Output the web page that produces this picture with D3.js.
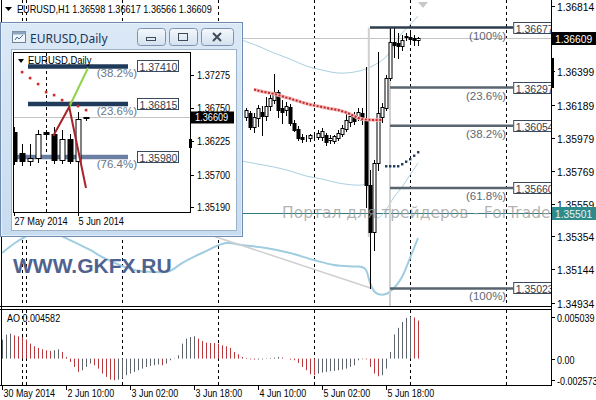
<!DOCTYPE html>
<html><head><meta charset="utf-8">
<script src="https://cdn.jsdelivr.net/npm/d3@7"></script>
<style>
html,body{margin:0;padding:0;background:#fff;}
svg{display:block;font-family:"Liberation Sans",Arial,sans-serif;}
</style></head><body>
<svg id="c" width="596" height="400"></svg>
<script>
// ---------------- DATA ----------------
const symbolHeader = "EURUSD,H1  1.36598 1.36617 1.36566 1.36609";
const lastPrice = 1.36609;
const markerPrice = 1.35501;
const firstCandle = 61;
const candleOpen  = [1.36110,1.36136,1.36047,1.36104,1.36142,1.36116,1.36180,1.36218,1.36269,1.36167,1.36155,1.36174,1.36072,1.36034,1.35983,1.35977,1.35977,1.35990,1.35983,1.35983,1.35996,1.35964,1.35958,1.35977,1.36002,1.36034,1.36078,1.36116,1.36104,1.36136,1.36091,1.35679,1.35381,1.35818,1.36110,1.36167,1.36357,1.36586,1.36579,1.36560,1.36624,1.36617,1.36611,1.36598];
const candleHigh  = [1.36167,1.36148,1.36136,1.36186,1.36180,1.36237,1.36250,1.36383,1.36281,1.36218,1.36205,1.36193,1.36091,1.36053,1.36002,1.35996,1.36002,1.36002,1.36028,1.36040,1.36009,1.35996,1.35996,1.36028,1.36059,1.36136,1.36123,1.36142,1.36167,1.36167,1.36427,1.35774,1.35837,1.36522,1.36199,1.36376,1.36677,1.36675,1.36643,1.36630,1.36643,1.36643,1.36630,1.36617];
const candleLow   = [1.36091,1.36034,1.36015,1.36053,1.35996,1.36091,1.36155,1.36199,1.36110,1.36072,1.36123,1.36059,1.36021,1.35964,1.35952,1.35958,1.35958,1.35964,1.35971,1.35964,1.35933,1.35945,1.35945,1.35964,1.35990,1.36021,1.36053,1.36066,1.36091,1.36066,1.35539,1.35023,1.35267,1.35774,1.36078,1.36155,1.36345,1.36491,1.36484,1.36535,1.36598,1.36573,1.36567,1.36566];
const candleClose = [1.36155,1.36047,1.36110,1.36167,1.36116,1.36180,1.36231,1.36269,1.36155,1.36142,1.36180,1.36072,1.36028,1.35977,1.35971,1.35975,1.35996,1.35988,1.36009,1.36021,1.35952,1.35977,1.35990,1.36009,1.36040,1.36091,1.36116,1.36085,1.36142,1.36091,1.35679,1.35381,1.35818,1.36136,1.36174,1.36357,1.36586,1.36567,1.36560,1.36598,1.36617,1.36605,1.36598,1.36609];

const sarRedStart = 63;
const sarRed = [1.36285,1.36278,1.36272,1.36267,1.36262,1.36257,1.36250,1.36242,1.36234,1.36228,1.36219,1.36212,1.36203,1.36196,1.36189,1.36184,1.36179,1.36174,1.36169,1.36163,1.36159,1.36155,1.36147,1.36139,1.36129,1.36117,1.36104,1.36098,1.36094,1.36092,1.36091,1.36091,1.36091];
const sarBlueStart = 96;
const sarBlue = [1.35799,1.35799,1.35799,1.35799,1.35812,1.35828,1.35844,1.35866,1.35888];

const upperBandBars = [60,64,68,72,76,80,84,88,91,94,96,98,100,102,104];
const upperBand     = [1.36598,1.36560,1.36516,1.36478,1.36434,1.36408,1.36389,1.36395,1.36415,1.36453,1.36491,1.36560,1.36643,1.36694,1.36751];
const innerBandBars = [60,64,68,72,76,80,84,88,90,91,92,93,94,96,98,100,102,104];
const innerBand     = [1.35831,1.35812,1.35793,1.35768,1.35736,1.35717,1.35692,1.35679,1.35679,1.35685,1.35584,1.35508,1.35470,1.35521,1.35603,1.35666,1.35742,1.35818];
const lowerBandBars = [0,4,8,12,17,22,26,33,38,42,45,50,56,60,66,72,78,83,88,90,91,92,93,94,96,98,100,102,104];
const lowerBand     = [1.35248,1.35324,1.35375,1.35381,1.35330,1.35267,1.35210,1.35140,1.35127,1.35134,1.35184,1.35248,1.35311,1.35298,1.35280,1.35248,1.35203,1.35172,1.35162,1.35159,1.35140,1.35058,1.35007,1.34988,1.34988,1.35026,1.35096,1.35216,1.35343];

const trendBars = [45, 92.5];
const trendPrices = [1.35421, 1.35023];
const grayVerticalBars = [91.7, 97];
const grayVerticalLow = [1.35350, 1.34899];

const fibPrices = [1.36677, 1.36297, 1.36054, 1.35660, 1.35023];
const fibTexts  = ["1.36677","1.36297","1.36054","1.35660","1.35023"];
const fibLevels = ["(100%)","(23.6%)","(38.2%)","(61.8%)","(100%)"];
const fibStartBar = [92, 97, 97, 97, 97];
const fibEndBar = 127.8;

const aoValues = [0.00228,0.00288,0.00300,0.00280,0.00268,0.00260,0.00228,0.00180,0.00148,0.00128,
 0.00112,0.00100,0.00092,0.00100,0.00112,0.00080,0.00020,-0.00040,-0.00100,-0.00160,
 -0.00140,-0.00100,-0.00060,-0.00080,-0.00120,-0.00180,-0.00220,-0.00252,-0.00260,-0.00252,
 -0.00240,-0.00200,-0.00180,-0.00160,-0.00140,-0.00120,-0.00100,-0.00088,-0.00080,-0.00072,
 -0.00080,-0.00060,-0.00020,0.00004,0.00040,0.00180,0.00240,0.00260,0.00268,0.00240,
 0.00212,0.00192,0.00188,0.00186,0.00180,0.00160,0.00148,0.00128,0.00080,0.00052,
 0.00020,0.00008,-0.00008,-0.00012,-0.00012,-0.00010,-0.00004,0.00008,0.00012,0.00020,
 0.00012,0.00000,-0.00012,-0.00020,-0.00052,-0.00100,-0.00140,-0.00188,-0.00200,-0.00180,
 -0.00168,-0.00160,-0.00152,-0.00148,-0.00140,-0.00132,-0.00120,-0.00100,-0.00080,-0.00020,
 -0.00008,-0.00010,-0.00100,-0.00180,-0.00212,-0.00200,-0.00120,0.00080,0.00290,0.00370,
 0.00440,0.00490,0.005039,0.00495,0.004582];
const aoHeader = "AO 0.004582";
const aoTickLabels = ["0.005039","0.00","-0.002573"];

const timeLabels = ["30 May 2014","2 Jun 10:00","3 Jun 02:00","3 Jun 18:00","4 Jun 10:00","5 Jun 02:00","5 Jun 18:00"];
const timeLabelBars = [0,16,32,48,64,80,96];
const daySeparatorBars = [5,6,30,54,78,102,126];
const priceTickLabels = ["1.36814","1.36399","1.36189","1.35979","1.35769","1.35559","1.35354","1.35144","1.34934"];

// inset (daily)
const insetTitle = "EURUSD,Daily";
const insetDays  = ["27 May","28 May","29 May","30 May","1 Jun","2 Jun","3 Jun","4 Jun","5 Jun","6 Jun"];
const insetOpen  = [1.3637,1.3605,1.3592,1.3596,1.3637,1.3634,1.3594,1.3627,1.3592,1.36598];
const insetHigh  = [1.3645,1.3618,1.3618,1.3640,1.3640,1.3645,1.3640,1.3634,1.3669,1.36617];
const insetLow   = [1.3587,1.3586,1.3585,1.3590,1.3630,1.3588,1.3588,1.3588,1.3503,1.36566];
const insetClose = [1.3592,1.3592,1.3596,1.3635,1.3634,1.3594,1.3627,1.3592,1.3658,1.36609];
const insetSar   = [null,1.37322,1.37228,1.37133,1.37006,1.36959,1.36880,1.36833,1.36785,1.36722];
const insetRedLine   = [[4.9,1.36311],[6.9,1.36770],[9,1.35490]];
const insetGreenLine = [[6.9,1.36770],[9.25,1.37386]];
const insetFibPrices = [1.37410, 1.36815, 1.35980];
const insetFibTexts  = ["1.37410","1.36815","1.35980"];
const insetFibLevels = ["(38.2%)","(23.6%)","(76.4%)"];
const insetFibStart  = [1.75, 1.75, -1];
const insetFibEnd    = 14.25;
const insetFibColors = ["#1f3a5a","#1f3a5a","#6b7fa3"];
const insetTickLabels = ["1.37275","1.36750","1.36225","1.35700","1.35190"];
const insetDateLabels = ["27 May 2014","5 Jun 2014"];
const insetDateBars = [0, 8];
const insetSeparatorBars = [4];

// ---------------- HELPERS ----------------
function T(parent, x, y, str, size, sx, fill, anchor){
  return parent.append("text")
    .attr("transform", `translate(${x},${y}) scale(${sx},1)`)
    .attr("font-size", size).attr("fill", fill || "#000")
    .attr("text-anchor", anchor || "start").text(str);
}

// ---------------- SCALES ----------------
const svg = d3.select("#c");
const x = d3.scaleLinear().domain([0,137]).range([2,550]);
const y = d3.scaleLinear().domain([1.36814,1.34934]).range([6,302.5]);
const yAO = d3.scaleLinear().domain([0.005039,-0.002573]).range([316.7,380]);
const cx = i => Math.round(x(i)) + 0.5;

const defs = svg.append("defs");
defs.append("clipPath").attr("id","mainClip").append("rect").attr("x",1).attr("y",0).attr("width",550).attr("height",306);
defs.append("clipPath").attr("id","aoClip").append("rect").attr("x",1).attr("y",310).attr("width",550).attr("height",75);
defs.append("clipPath").attr("id","inClip").append("rect").attr("x",14).attr("y",53).attr("width",176).attr("height",159);
const g1 = defs.append("linearGradient").attr("id","frameGrad").attr("x1",0).attr("y1",0).attr("x2",0).attr("y2",1);
g1.append("stop").attr("offset","0").attr("stop-color","#dbe8f6");
g1.append("stop").attr("offset","1").attr("stop-color","#c8dcf0");
const g2 = defs.append("linearGradient").attr("id","btnGrad").attr("x1",0).attr("y1",0).attr("x2",0).attr("y2",1);
g2.append("stop").attr("offset","0").attr("stop-color","#f4f8fc");
g2.append("stop").attr("offset","1").attr("stop-color","#d3e1ef");

svg.append("rect").attr("width",596).attr("height",400).attr("fill","#fff");

// ---------------- MAIN PANEL ----------------
const main = svg.append("g").attr("clip-path","url(#mainClip)");

main.selectAll("line.sep").data(daySeparatorBars).join("line")
  .attr("x1",d=>cx(d)).attr("x2",d=>cx(d)).attr("y1",0).attr("y2",306)
  .attr("stroke","#000").attr("stroke-dasharray","3,3");

main.append("line").attr("x1",0).attr("x2",551).attr("y1",Math.round(y(lastPrice))+0.5).attr("y2",Math.round(y(lastPrice))+0.5)
  .attr("stroke","#c4c4c4");
main.append("line").attr("x1",0).attr("x2",551).attr("y1",Math.round(y(markerPrice))+0.5).attr("y2",Math.round(y(markerPrice))+0.5)
  .attr("stroke","#2f7b80");

const bandLine = d3.line().x(d=>x(d[0])).y(d=>y(d[1])).curve(d3.curveCatmullRom);
main.append("path").attr("d",bandLine(upperBandBars.map((b,i)=>[b,upperBand[i]])))
  .attr("fill","none").attr("stroke","#a9d0e0").attr("stroke-width",1);
main.append("path").attr("d",bandLine(innerBandBars.map((b,i)=>[b,innerBand[i]])))
  .attr("fill","none").attr("stroke","#a9d0e0").attr("stroke-width",1);
main.append("path").attr("d",bandLine(lowerBandBars.map((b,i)=>[b,lowerBand[i]])))
  .attr("fill","none").attr("stroke","#9fcde0").attr("stroke-width",2);

main.append("line").attr("x1",x(trendBars[0])).attr("y1",y(trendPrices[0])).attr("x2",x(trendBars[1])).attr("y2",y(trendPrices[1]))
  .attr("stroke","#cfcfcf").attr("stroke-width",1.5);

main.selectAll("line.gv").data(grayVerticalBars).join("line")
  .attr("x1",d=>x(d)).attr("x2",d=>x(d))
  .attr("y1",y(fibPrices[0])).attr("y2",(d,i)=> y(grayVerticalLow[i]))
  .attr("stroke","#d0d0d0").attr("stroke-width",2);

// candles
const candles = candleOpen.map((o,k)=>({i:firstCandle+k,o,h:candleHigh[k],l:candleLow[k],c:candleClose[k]}));
const cg = main.append("g");
cg.selectAll("line.wick").data(candles).join("line")
  .attr("x1",d=>cx(d.i)).attr("x2",d=>cx(d.i))
  .attr("y1",d=>Math.round(y(d.h))).attr("y2",d=>Math.round(y(d.l))+1)
  .attr("stroke","#000");
cg.selectAll("rect.body").data(candles).join("rect")
  .attr("x",d=>cx(d.i)-1.5).attr("width",3)
  .attr("y",d=>Math.round(y(Math.max(d.o,d.c)))+0.5)
  .attr("height",d=>Math.max(0,Math.round(y(Math.min(d.o,d.c)))-Math.round(y(Math.max(d.o,d.c)))))
  .attr("fill",d=>d.c>=d.o?"#fff":"#000").attr("stroke","#000");

// SAR / dotted lines
const sarLine = d3.line().x(d=>x(d[0])).y(d=>y(d[1]));
const redPts = sarRed.map((v,k)=>[sarRedStart+k,v]);
main.append("path").attr("d",sarLine(redPts)).attr("fill","none").attr("stroke","#f3b9b9").attr("stroke-width",3.5);
main.append("path").attr("d",sarLine(redPts)).attr("fill","none").attr("stroke","#c0282a").attr("stroke-width",2).attr("stroke-dasharray","2,1.6");
main.selectAll("rect.sb").data(sarBlue.map((v,k)=>[sarBlueStart+k,v])).join("rect")
  .attr("x",d=>x(d[0])-1).attr("y",d=>y(d[1])-1).attr("width",2.4).attr("height",2.4).attr("fill","#1f3a5a");

// Fibonacci
const fg = main.append("g");
fibPrices.forEach((p,k)=>{
  const yy = y(p);
  fg.append("line").attr("x1",x(fibStartBar[k])).attr("x2",x(fibEndBar)).attr("y1",yy).attr("y2",yy)
    .attr("stroke", k===0?"#2c3e4e":"#59646f").attr("stroke-width",2.5);
  T(fg, x(fibEndBar)-7, yy+12, fibLevels[k], 11.5, 1, "#5d6874", "end");
  fg.append("rect").attr("x",x(fibEndBar)+0.5).attr("y",Math.round(yy)-5.5).attr("width",45).attr("height",11)
    .attr("fill","#fff").attr("stroke","#3a4a5a");
  T(fg, x(fibEndBar)+2.5, Math.round(yy)+4.5, fibTexts[k], 10.5, 1, "#33414f");
});

// watermarks
main.append("text").attr("x",282).attr("y",218).attr("font-family","'DejaVu Sans',sans-serif").attr("font-size",15.5)
  .attr("fill","#9a9a9a").attr("fill-opacity",0.75).text("Портал для трейдеров - ForTrader");
main.append("text").attr("x",13).attr("y",273).attr("font-size",21).attr("font-weight","bold").attr("fill","#50638f")
  .text("WWW.GKFX.RU");

// gray marker triangle at top
main.append("path").attr("d","M418,2 L428,2 L423,8 Z").attr("fill","#c8c8c8");

// header
main.append("path").attr("d","M5,7 L12,7 L8.5,11 Z").attr("fill","#000");
T(main, 17, 13, symbolHeader, 10.5, 0.87);

// ---------------- AO PANEL ----------------
const ao = svg.append("g").attr("clip-path","url(#aoClip)");
ao.selectAll("line.sep").data(daySeparatorBars).join("line")
  .attr("x1",d=>cx(d)).attr("x2",d=>cx(d)).attr("y1",310).attr("y2",385)
  .attr("stroke","#000").attr("stroke-dasharray","3,3");
ao.selectAll("line.bar").data(aoValues).join("line")
  .attr("x1",(d,i)=>cx(i)).attr("x2",(d,i)=>cx(i))
  .attr("y1",yAO(0)).attr("y2",d=>yAO(d))
  .attr("stroke",(d,i)=> i>0 && d<aoValues[i-1] ? "#b9393c" : "#5d646c").attr("stroke-width",1);
T(ao, 7, 322, aoHeader, 10.5, 0.86);

// frame lines
const fr = svg.append("g").attr("stroke","#000").attr("shape-rendering","crispEdges");
fr.append("line").attr("x1",1).attr("x2",1).attr("y1",0).attr("y2",386);
fr.append("line").attr("x1",0).attr("x2",552).attr("y1",306.5).attr("y2",306.5);
fr.append("line").attr("x1",0).attr("x2",552).attr("y1",309.5).attr("y2",309.5);
fr.append("line").attr("x1",0).attr("x2",552).attr("y1",385.5).attr("y2",385.5);

// ---------------- INSET WINDOW ----------------
const ins = svg.append("g");
ins.append("rect").attr("x",0.5).attr("y",22.5).attr("width",242).attr("height",214)
  .attr("fill","url(#frameGrad)").attr("stroke","#6f8cae");
ins.append("rect").attr("x",1.5).attr("y",23.5).attr("width",240).attr("height",212)
  .attr("fill","none").attr("stroke","#eef5fc").attr("stroke-opacity",0.7);
// icon
ins.append("rect").attr("x",12.5).attr("y",31.5).attr("width",13).attr("height",11).attr("fill","#f2f6fa").attr("stroke","#6d8199");
ins.append("rect").attr("x",12.5).attr("y",31.5).attr("width",13).attr("height",3).attr("fill","#8fa5bf");
ins.append("path").attr("d","M15,40 L17,37 L19,39 L23,35").attr("fill","none").attr("stroke","#3d6ea5");
ins.append("text").attr("x",30).attr("y",43).attr("font-family","'Noto Sans',sans-serif").attr("font-size",12).attr("fill","#1d3557").text(insetTitle);
// buttons
const btns = [[137,28],[169,28],[201,32]];
btns.forEach((b,k)=>{
  const bx = b[0], bw = b[1];
  ins.append("rect").attr("x",bx+0.5).attr("y",28.5).attr("width",bw).attr("height",17).attr("rx",3)
    .attr("fill","url(#btnGrad)").attr("stroke","#7b93b0");
  const mx = bx + bw/2;
  if(k===0) ins.append("rect").attr("x",mx-4.5).attr("y",37.5).attr("width",9).attr("height",3).attr("fill","none").attr("stroke","#3f4b59");
  if(k===1) ins.append("rect").attr("x",mx-4.5).attr("y",33.5).attr("width",9).attr("height",7).attr("fill","none").attr("stroke","#3f4b59");
  if(k===2) ins.append("path").attr("d",`M${mx-4},${33} L${mx+4},${41} M${mx+4},${33} L${mx-4},${41}`).attr("stroke","#3f4b59").attr("stroke-width",2);
});
// client area
ins.append("rect").attr("x",11.5).attr("y",49.5).attr("width",225).attr("height",181).attr("fill","#fff").attr("stroke","#9fb3c8");

const ix = d3.scaleLinear().domain([0,9]).range([14,86]);
const iy = d3.scaleLinear().domain([1.37275,1.35190]).range([75,207]);
const icx = k => Math.round(ix(k)) + 0.5;

const ip = ins.append("g").attr("clip-path","url(#inClip)");
ip.selectAll("line.isep").data(insetSeparatorBars).join("line")
  .attr("x1",d=>icx(d)).attr("x2",d=>icx(d)).attr("y1",53).attr("y2",212).attr("stroke","#000").attr("stroke-dasharray","3,3");
ip.append("line").attr("x1",13).attr("x2",190).attr("y1",Math.round(iy(lastPrice))+0.5).attr("y2",Math.round(iy(lastPrice))+0.5).attr("stroke","#c4c4c4");

// inset fib
insetFibPrices.forEach((p,k)=>{
  const yy = iy(p);
  ip.append("line").attr("x1",ix(insetFibStart[k])).attr("x2",ix(insetFibEnd)).attr("y1",yy).attr("y2",yy)
    .attr("stroke",insetFibColors[k]).attr("stroke-width",4.5);
});
// candles
const icandles = insetOpen.map((o,k)=>({k,o,h:insetHigh[k],l:insetLow[k],c:insetClose[k]}));
ip.selectAll("line.iw").data(icandles).join("line")
  .attr("x1",d=>icx(d.k)).attr("x2",d=>icx(d.k)).attr("y1",d=>Math.round(iy(d.h))).attr("y2",d=>Math.round(iy(d.l))+1).attr("stroke","#000");
ip.selectAll("rect.ib").data(icandles).join("rect")
  .attr("x",d=>icx(d.k)-2.5).attr("width",5)
  .attr("y",d=>Math.round(iy(Math.max(d.o,d.c)))+0.5)
  .attr("height",d=>Math.max(0,Math.round(iy(Math.min(d.o,d.c)))-Math.round(iy(Math.max(d.o,d.c)))))
  .attr("fill",d=>d.c>=d.o?"#fff":"#000").attr("stroke","#000");
ip.selectAll("rect.isar").data(insetSar.map((v,k)=>[k,v]).filter(d=>d[1]!==null)).join("rect")
  .attr("x",d=>ix(d[0])-1.2).attr("y",d=>iy(d[1])-1.2).attr("width",2.6).attr("height",2.6).attr("fill","#d02a2a");
const il = d3.line().x(d=>ix(d[0])).y(d=>iy(d[1]));
ip.append("path").attr("d",il(insetGreenLine)).attr("fill","none").attr("stroke","#8fd34a").attr("stroke-width",2);
ip.append("path").attr("d",il(insetRedLine)).attr("fill","none").attr("stroke","#a8242a").attr("stroke-width",2);
ip.append("path").attr("d","M18,59 L24,59 L21,63 Z").attr("fill","#000");
T(ip, 28, 64, insetTitle, 10.5, 0.9);

// inset fib labels
insetFibPrices.forEach((p,k)=>{
  const yy = Math.round(iy(p));
  T(ins, ix(insetFibEnd)+9, yy+11, insetFibLevels[k], 11.5, 1, "#6a7684", "end");
  ins.append("rect").attr("x",137.5).attr("y",yy-5.5).attr("width",41).attr("height",11).attr("fill","#fff").attr("stroke","#3a4a5a");
  T(ins, 139.5, yy+4.5, insetFibTexts[k], 10.5, 1, "#33414f");
});

// inset frame
const ifr = ins.append("g").attr("stroke","#000").attr("shape-rendering","crispEdges");
ifr.append("line").attr("x1",13.5).attr("x2",13.5).attr("y1",52).attr("y2",213);
ifr.append("line").attr("x1",13).attr("x2",191).attr("y1",52.5).attr("y2",52.5);
ifr.append("line").attr("x1",190.5).attr("x2",190.5).attr("y1",52).attr("y2",213);
ifr.append("line").attr("x1",13).attr("x2",191).attr("y1",212.5).attr("y2",212.5);
insetTickLabels.forEach(t=>{
  const yy = Math.round(iy(+t))+0.5;
  ins.append("line").attr("x1",191).attr("x2",194).attr("y1",yy).attr("y2",yy).attr("stroke","#000");
  T(ins, 197, yy+3.5, t, 10, 0.92);
});
ins.append("rect").attr("x",191).attr("y",Math.round(iy(lastPrice))-5.5).attr("width",43).attr("height",12).attr("fill","#000");
T(ins, 195, Math.round(iy(lastPrice))+4, lastPrice.toFixed(5), 10, 0.92, "#fff");
ins.append("rect").attr("x",189).attr("y",139).attr("width",3).attr("height",9).attr("fill","#000");
insetDateLabels.forEach((t,k)=>{
  const xx = icx(insetDateBars[k]);
  ins.append("line").attr("x1",xx).attr("x2",xx).attr("y1",212).attr("y2",216).attr("stroke","#000");
  T(ins, xx, 225, t, 10, 0.92);
});

// ---------------- RIGHT AXIS ----------------
svg.append("rect").attr("x",552).attr("y",0).attr("width",44).attr("height",400).attr("fill","#fff");
svg.append("line").attr("x1",551.5).attr("x2",551.5).attr("y1",0).attr("y2",386).attr("stroke","#000");
priceTickLabels.forEach(t=>{
  const yy = Math.round(y(+t))+0.5;
  svg.append("line").attr("x1",552).attr("x2",555).attr("y1",yy).attr("y2",yy).attr("stroke","#000");
  T(svg, 557, yy+4, t, 10.5, 0.98);
});
svg.append("rect").attr("x",552).attr("y",Math.round(y(lastPrice))-6).attr("width",44).attr("height",13).attr("fill","#000");
T(svg, 555, Math.round(y(lastPrice))+4.5, lastPrice.toFixed(5), 10.5, 0.98, "#fff");
svg.append("rect").attr("x",552).attr("y",Math.round(y(markerPrice))-6).attr("width",44).attr("height",13).attr("fill","#2f8a8c");
T(svg, 555, Math.round(y(markerPrice))+4.5, markerPrice.toFixed(5), 10.5, 0.98, "#e8f4f4");
svg.append("rect").attr("x",551).attr("y",58).attr("width",3).attr("height",30).attr("fill","#000");
aoTickLabels.forEach(t=>{
  const yy = Math.round(yAO(+t))+0.5;
  svg.append("line").attr("x1",552).attr("x2",555).attr("y1",yy).attr("y2",yy).attr("stroke","#000");
  T(svg, 557, yy+4, t, 10.5, 0.86);
});

// ---------------- TIME AXIS ----------------
timeLabels.forEach((t,k)=>{
  const xx = cx(timeLabelBars[k]);
  svg.append("line").attr("x1",xx).attr("x2",xx).attr("y1",386).attr("y2",390).attr("stroke","#000");
  T(svg, xx+1, 397, t, 10.5, 0.85);
});
</script>
</body></html>
